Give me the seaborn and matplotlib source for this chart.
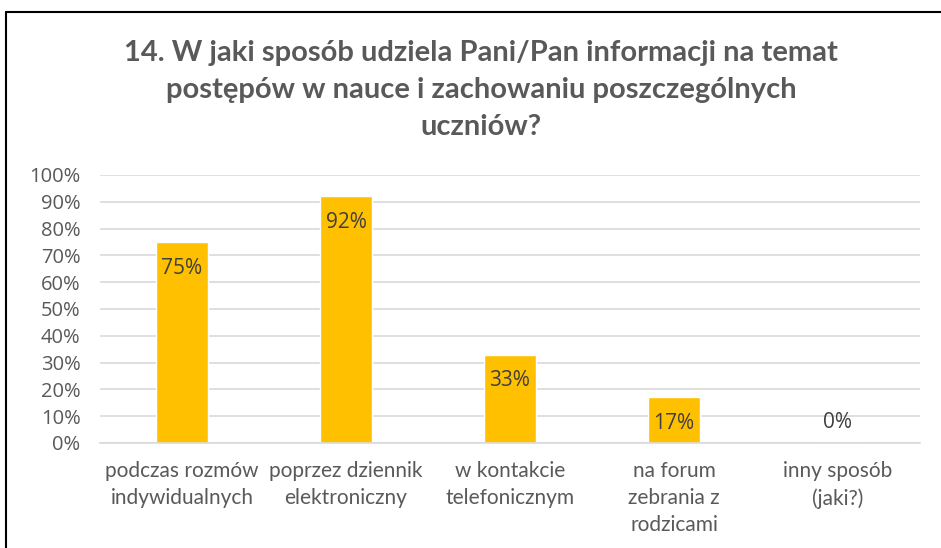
import matplotlib
matplotlib.use("Agg")
import matplotlib.pyplot as plt
import seaborn as sns
import pandas as pd
from matplotlib.lines import Line2D

categories = ["podczas rozmów\nindywidualnych", "poprzez dziennik\nelektroniczny",
              "w kontakcie\ntelefonicznym", "na forum\nzebrania z\nrodzicami",
              "inny sposób\n(jaki?)"]
values = [75, 92, 33, 17, 0]
yticks = [0, 10, 20, 30, 40, 50, 60, 70, 80, 90, 100]
title = "14. W jaki sposób udziela Pani/Pan informacji na temat\npostępów w nauce i zachowaniu poszczególnych\nuczniów?"

sns.set_theme(style="white")
plt.rcParams['font.family'] = ['Lato', 'DejaVu Sans']

fig = plt.figure(figsize=(9.41, 5.48), dpi=100)
ax = fig.add_axes([100/941, 1-443/548, 820/941, 268/548])

df = pd.DataFrame({"cat": categories, "val": values})
sns.barplot(data=df, x="cat", y="val", color="#FFC000", width=0.32, ax=ax,
            saturation=1)

ax.set_ylim(0, 100)
ax.set_yticks(yticks)
ax.set_yticklabels([f"{t}%" for t in yticks], family=["Open Sans", "DejaVu Sans"])
ax.yaxis.grid(True, color="#d9d9d9", linewidth=1.2)
ax.set_axisbelow(True)
for s in ["top", "right", "left"]:
    ax.spines[s].set_visible(False)
ax.spines["bottom"].set_color("#d9d9d9")
ax.spines["bottom"].set_linewidth(1.2)
ax.set_xlabel("")
ax.set_ylabel("")
ax.tick_params(axis="y", length=0, pad=14, labelsize=14.5, labelcolor="#595959")
ax.tick_params(axis="x", length=0, pad=13, labelsize=15, labelcolor="#595959")
for lab in ax.get_xticklabels():
    lab.set_linespacing(1.45)

for i, v in enumerate(values):
    off = -19 if v > 5 else 15
    ax.annotate(f"{v}%", (i, v), xytext=(0, off), textcoords="offset points",
                ha="center", va="center", fontsize=15, color="#404040",
                family=["Open Sans", "DejaVu Sans"])

fig.text(481/941, 1-40/548, title, ha="center", va="top", fontsize=21,
         fontweight="bold", color="#595959", linespacing=1.52)

# chart border (top and left visible)
fig.add_artist(Line2D([6/941, 1], [1-12/548, 1-12/548], color="black", linewidth=1.5,
                      transform=fig.transFigure))
fig.add_artist(Line2D([6/941, 6/941], [0, 1-12/548], color="black", linewidth=1.5,
                      transform=fig.transFigure))

fig.savefig("out.png", dpi=100)
